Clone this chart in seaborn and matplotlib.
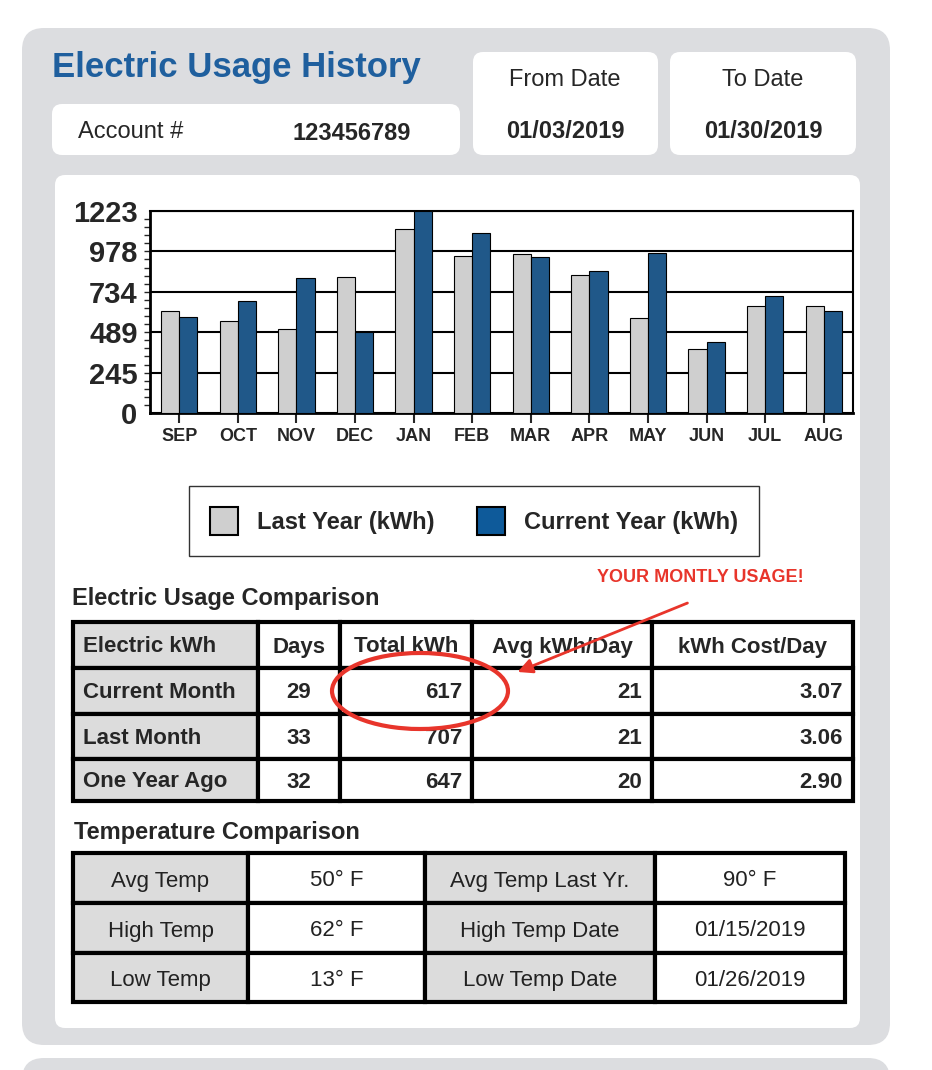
import numpy as np
import pandas as pd
import matplotlib
matplotlib.use("Agg")
import matplotlib.pyplot as plt
import seaborn as sns
from matplotlib.patches import FancyBboxPatch, Rectangle, Ellipse, Patch
from matplotlib.ticker import MultipleLocator

sns.set_style("white")
plt.rcParams['font.family'] = ['Liberation Sans', 'DejaVu Sans']

# data
months = ['SEP', 'OCT', 'NOV', 'DEC', 'JAN', 'FEB', 'MAR', 'APR', 'MAY', 'JUN', 'JUL', 'AUG']
last_year = [618, 560, 509, 826, 1113, 950, 963, 834, 577, 389, 650, 648]
current_year = [582, 676, 820, 489, 1223, 1089, 942, 860, 967, 431, 710, 620]
y_ticks = [0, 245, 489, 734, 978, 1223]

usage_header = ['Electric kWh', 'Days', 'Total kWh', 'Avg kWh/Day', 'kWh Cost/Day']
usage_rows = ['Current Month', 'Last Month', 'One Year Ago']
usage_days = ['29', '33', '32']
usage_total = ['617', '707', '647']
usage_avg = ['21', '21', '20']
usage_cost = ['3.07', '3.06', '2.90']

temp_labels1 = ['Avg Temp', 'High Temp', 'Low Temp']
temp_values1 = ['50° F', '62° F', '13° F']
temp_labels2 = ['Avg Temp Last Yr.', 'High Temp Date', 'Low Temp Date']
temp_values2 = ['90° F', '01/15/2019', '01/26/2019']

GRAY = '#cfcfcf'
BLUE = '#0e5a9a'
PANEL = '#dcdde0'
CELL = '#dcdcdc'

fig = plt.figure(figsize=(9.32, 10.7), dpi=100)
bg = fig.add_axes([0, 0, 1, 1])
bg.set_xlim(0, 932)
bg.set_ylim(1070, 0)
bg.axis('off')

def rbox(x0, y0, x1, y1, color, r=12):
    bg.add_patch(FancyBboxPatch((x0 + r, y0 + r), x1 - x0 - 2 * r, y1 - y0 - 2 * r,
                                boxstyle=f"round,pad={r}", fc=color, ec='none'))

rbox(22, 28, 890, 1045, PANEL, 22)
rbox(22, 1058, 890, 1110, PANEL, 22)
rbox(52, 104, 460, 155, 'white', 10)
rbox(473, 52, 658, 155, 'white', 10)
rbox(670, 52, 856, 155, 'white', 10)
rbox(55, 175, 860, 1028, 'white', 10)

bg.text(52, 67, 'Electric Usage History', color='#1f5f9e', fontsize=25, fontweight='bold', va='center')
bg.text(78, 132, 'Account #', fontsize=17, va='center')
bg.text(292, 134, '123456789', fontsize=17, fontweight='bold', va='center')
bg.text(565, 80, 'From Date', fontsize=17, ha='center', va='center')
bg.text(565, 131, '01/03/2019', fontsize=17, fontweight='bold', ha='center', va='center')
bg.text(763, 80, 'To Date', fontsize=17, ha='center', va='center')
bg.text(763, 131, '01/30/2019', fontsize=17, fontweight='bold', ha='center', va='center')

# bar chart
df = pd.DataFrame({
    'month': months * 2,
    'kwh': last_year + current_year,
    'series': ['Last Year (kWh)'] * 12 + ['Current Year (kWh)'] * 12,
})
ax = fig.add_axes([150 / 932, 1 - 413 / 1070, 703 / 932, 202 / 1070])
sns.barplot(data=df, x='month', y='kwh', hue='series', palette=[GRAY, BLUE],
            width=0.62, edgecolor='black', linewidth=0.8, legend=False, ax=ax, zorder=3)
ax.set_ylim(0, 1223)
ax.set_yticks(y_ticks)
ax.yaxis.set_minor_locator(MultipleLocator(1223 / 25))
ax.tick_params(axis='y', which='major', length=8, width=1.5, labelsize=21, pad=1)
ax.tick_params(axis='y', which='minor', length=4, width=1, left=True)
ax.tick_params(axis='x', length=7, width=1.5, labelsize=13, bottom=True, pad=4)
for lab in ax.get_yticklabels() + ax.get_xticklabels():
    lab.set_fontweight('bold')
ax.grid(axis='y', color='black', linewidth=1.5, zorder=0)
ax.set_axisbelow(True)
ax.set_xlabel('')
ax.set_ylabel('')
for s in ax.spines.values():
    s.set_color('black')
    s.set_linewidth(1.5)
ax.spines['left'].set_linewidth(2)
ax.spines['bottom'].set_linewidth(2)

handles = [Patch(fc=GRAY, ec='black', lw=1.5, label='Last Year (kWh)'),
           Patch(fc=BLUE, ec='black', lw=1.5, label='Current Year (kWh)')]
leg = fig.legend(handles=handles, loc='center', bbox_to_anchor=(474 / 932, 1 - 521 / 1070),
                 ncol=2, fontsize=17, frameon=True, fancybox=False, handlelength=1.2,
                 handleheight=1.4, columnspacing=1.8, borderpad=0.9, borderaxespad=0)
leg.get_frame().set_edgecolor('black')
leg.get_frame().set_linewidth(1)
for t in leg.get_texts():
    t.set_fontweight('bold')

# usage table
bg.text(72, 598, 'Electric Usage Comparison', fontsize=17, fontweight='bold', va='center')
cols = [73, 258, 340, 472, 652, 853]
rows = [622, 668, 714, 759, 801]
for i in range(4):
    for j in range(5):
        fc = CELL if (j == 0) else 'white'
        bg.add_patch(Rectangle((cols[j], rows[i]), cols[j + 1] - cols[j], rows[i + 1] - rows[i],
                               fc=fc, ec='black', lw=3))
cell_text = [usage_header] + [[usage_rows[k], usage_days[k], usage_total[k], usage_avg[k], usage_cost[k]]
                              for k in range(3)]
for i, row in enumerate(cell_text):
    yc = (rows[i] + rows[i + 1]) / 2 + 2
    for j, txt in enumerate(row):
        if j == 0:
            bg.text(cols[0] + 10, yc, txt, fontsize=16, fontweight='bold', va='center')
        elif i == 0 or j == 1:
            bg.text((cols[j] + cols[j + 1]) / 2, yc, txt, fontsize=16, fontweight='bold', ha='center', va='center')
        else:
            bg.text(cols[j + 1] - 10, yc, txt, fontsize=16, fontweight='bold', ha='right', va='center')

# temperature table
bg.text(74, 833, 'Temperature Comparison', fontsize=17, fontweight='bold', va='center')
tcols = [73, 248, 425, 655, 845]
trows = [853, 903, 953, 1002]
for i in range(3):
    vals = [temp_labels1[i], temp_values1[i], temp_labels2[i], temp_values2[i]]
    for j in range(4):
        fc = CELL if j in (0, 2) else 'white'
        bg.add_patch(Rectangle((tcols[j], trows[i]), tcols[j + 1] - tcols[j], trows[i + 1] - trows[i],
                               fc=fc, ec='black', lw=3))
        bg.text((tcols[j] + tcols[j + 1]) / 2, (trows[i] + trows[i + 1]) / 2 + 3, vals[j],
                fontsize=16, ha='center', va='center', color='#222222')

# annotation
bg.add_patch(Ellipse((420, 691), 176, 76, fc='none', ec='#e8352b', lw=3, zorder=5))
bg.annotate('', xy=(515, 673), xytext=(690, 602),
            arrowprops=dict(arrowstyle='-|>', color='#e8352b', lw=2, mutation_scale=22), zorder=5)
bg.text(700, 577, 'YOUR MONTLY USAGE!', color='#e8352b', fontsize=13, fontweight='bold',
        ha='center', va='center')

fig.savefig('out.png', dpi=100)
